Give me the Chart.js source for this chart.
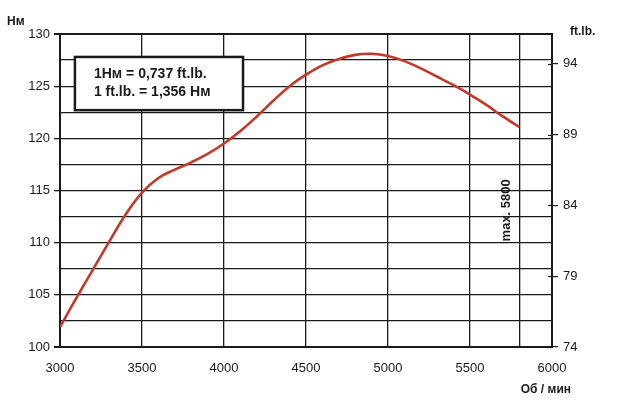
<!DOCTYPE html>
<html>
<head>
<meta charset="utf-8">
<script src="https://cdn.jsdelivr.net/npm/chart.js@4"></script>
<style>
  html, body { margin: 0; padding: 0; background: #fff; }
  #wrap { width: 620px; height: 409px; }
</style>
</head>
<body>
<div id="wrap"><canvas id="c" width="620" height="409"></canvas></div>
<script>
// ---- data ----
const rpm = [3000,3100,3200,3300,3400,3500,3600,3700,3800,3900,4000,4100,4200,4300,4400,4500,4600,4700,4800,4900,5000,5100,5200,5300,5400,5500,5600,5700,5800];
const torqueNm = [101.9,104.7,107.4,110.1,112.7,114.8,116.2,117.0,117.7,118.5,119.5,120.7,122.1,123.6,125.0,126.1,127.0,127.6,128.0,128.1,127.9,127.4,126.7,125.9,125.1,124.2,123.2,122.1,121.1];
const xTickValues = [3000,3500,4000,4500,5000,5500,6000];
const maxRpm = 5800;
const nmTickLabels = [100,105,110,115,120,125,130];
const ftlbTickValues = [74,79,84,89,94];
const nmToFtlb = 0.737;
const noteLines = ["1Нм = 0,737 ft.lb.", "1 ft.lb. = 1,356 Нм"];
const maxLabel = "max. 5800";
const leftUnit = "Нм";
const rightUnit = "ft.lb.";
const xUnit = "Об / мин";

const NM_MIN = 100, NM_MAX = 130;
const FONT = "'Liberation Sans', Arial, sans-serif";
const INK = '#1a1a1a';

const annot = {
  id: 'annot',
  afterDraw(chart) {
    const ctx = chart.ctx;
    const x = chart.scales.x, y = chart.scales.y, y2 = chart.scales.y2;
    const area = chart.chartArea;
    ctx.save();
    // inner part of right-axis tick marks
    ctx.strokeStyle = INK; ctx.lineWidth = 1.2;
    ftlbTickValues.forEach(v => {
      const py = Math.round(y2.getPixelForValue(v)) + 0.5;
      ctx.beginPath(); ctx.moveTo(area.right - 4, py); ctx.lineTo(area.right, py); ctx.stroke();
    });
    // note box
    const bx1 = x.getPixelForValue(3091), bx2 = x.getPixelForValue(4116);
    const by1 = y.getPixelForValue(127.8), by2 = y.getPixelForValue(122.7);
    ctx.fillStyle = '#fff';
    ctx.fillRect(bx1, by1, bx2 - bx1, by2 - by1);
    ctx.strokeStyle = INK; ctx.lineWidth = 2.5;
    ctx.strokeRect(bx1, by1, bx2 - bx1, by2 - by1);
    ctx.fillStyle = INK;
    ctx.font = "bold 14px " + FONT;
    ctx.textBaseline = 'middle'; ctx.textAlign = 'left';
    ctx.fillText(noteLines[0], bx1 + 19, by1 + 17);
    ctx.fillText(noteLines[1], bx1 + 19, by1 + 35);
    // unit labels
    ctx.font = "bold 12px " + FONT;
    ctx.textAlign = 'left';
    ctx.fillText(leftUnit, 7, 22);
    ctx.fillText(rightUnit, 570, 32);
    ctx.textAlign = 'right';
    ctx.fillText(xUnit, 571, 390);
    // max label rotated
    ctx.save();
    ctx.translate(x.getPixelForValue(maxRpm) - 13, y.getPixelForValue(113.1));
    ctx.rotate(-Math.PI / 2);
    ctx.textAlign = 'center'; ctx.textBaseline = 'middle';
    ctx.font = "bold 13px " + FONT;
    ctx.fillText(maxLabel, 0, 0);
    ctx.restore();
    ctx.restore();
  }
};

new Chart(document.getElementById('c'), {
  type: 'line',
  data: {
    datasets: [{
      data: rpm.map((r, i) => ({ x: r, y: torqueNm[i] })),
      borderColor: '#c4382b',
      borderWidth: 2.6,
      pointRadius: 0,
      tension: 0.4,
      fill: false,
      yAxisID: 'y'
    }]
  },
  options: {
    responsive: false,
    animation: false,
    devicePixelRatio: 1,
    layout: { padding: { top: 34, left: 0, right: 0, bottom: 0 } },
    plugins: { legend: { display: false }, tooltip: { enabled: false } },
    scales: {
      x: {
        type: 'linear', min: 3000, max: 6000,
        afterBuildTicks: s => {
          s.ticks = xTickValues.concat([maxRpm]).sort((a, b) => a - b).map(v => ({ value: v }));
        },
        afterFit: s => { s.height = 62; },
        ticks: {
          autoSkip: false, maxRotation: 0, padding: 14,
          color: INK, font: { family: FONT, size: 13 },
          callback: v => xTickValues.includes(v) ? String(v) : ''
        },
        grid: {
          color: INK, drawTicks: false,
          lineWidth: c => (c.tick && (c.tick.value === 3000 || c.tick.value === 6000)) ? 2 : 1.3
        },
        border: { display: true, color: INK, width: 2 }
      },
      y: {
        type: 'linear', position: 'left', min: NM_MIN, max: NM_MAX,
        afterBuildTicks: s => {
          const t = [];
          for (let v = NM_MIN; v <= NM_MAX + 1e-9; v += 2.5) t.push({ value: v });
          s.ticks = t;
        },
        afterFit: s => { s.width = 60; },
        ticks: {
          padding: 4, color: INK, font: { family: FONT, size: 13 },
          callback: v => nmTickLabels.includes(v) ? String(v) : ''
        },
        grid: {
          color: INK, tickLength: 6,
          tickColor: c => (c.tick && nmTickLabels.includes(c.tick.value)) ? INK : 'rgba(0,0,0,0)',
          lineWidth: c => (c.tick && (c.tick.value === NM_MIN || c.tick.value === NM_MAX)) ? 2 : 1.3
        },
        border: { display: true, color: INK, width: 2 }
      },
      y2: {
        type: 'linear', position: 'right',
        min: 74, max: 74 + (NM_MAX - NM_MIN) * nmToFtlb,
        afterBuildTicks: s => { s.ticks = ftlbTickValues.map(v => ({ value: v })); },
        afterFit: s => { s.width = 68; },
        ticks: { padding: 5, color: INK, font: { family: FONT, size: 13 } },
        grid: { drawOnChartArea: false, tickLength: 6, color: INK, lineWidth: 1.2 },
        border: { display: true, color: INK, width: 2 }
      }
    }
  },
  plugins: [annot]
});
</script>
</body>
</html>
